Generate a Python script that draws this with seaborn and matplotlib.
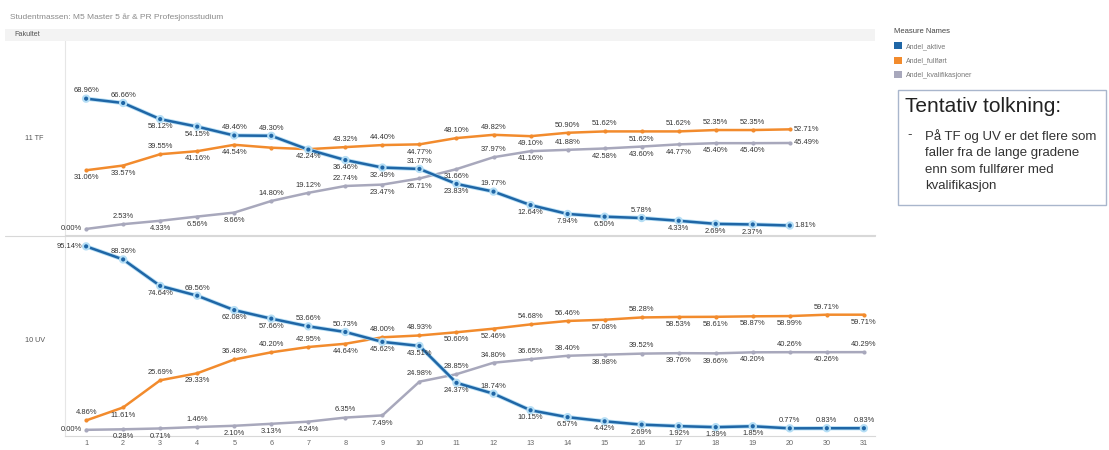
import pandas as pd
import matplotlib
matplotlib.use("Agg")
import matplotlib.pyplot as plt
import matplotlib.patheffects as pe
from matplotlib.patches import Patch, Rectangle
from matplotlib.lines import Line2D
import seaborn as sns

semesters = [str(i) for i in range(1, 21)] + ["30", "31"]
measures = ["Andel_aktive", "Andel_fullført", "Andel_kvalifikasjoner"]

tf_aktive = [68.96, 66.66, 58.12, 54.15, 49.46, 49.30, 42.00, 36.46, 32.49, 31.77,
             23.83, 19.77, 12.64, 7.94, 6.50, 5.78, 4.33, 2.69, 2.37, 1.81]
tf_fullfort = [31.06, 33.57, 39.55, 41.16, 44.54, 43.00, 42.24, 43.32, 44.40, 44.77,
               48.10, 49.82, 49.10, 50.90, 51.62, 51.62, 51.62, 52.35, 52.35, 52.71]
tf_kval = [0.00, 2.53, 4.33, 6.56, 8.66, 14.80, 19.12, 22.74, 23.47, 26.71,
           31.66, 37.97, 41.16, 41.88, 42.58, 43.60, 44.77, 45.40, 45.40, 45.49]

uv_aktive = [95.14, 88.36, 74.64, 69.56, 62.08, 57.66, 53.66, 50.73, 45.62, 43.51, 24.37,
             18.74, 10.15, 6.57, 4.42, 2.69, 1.92, 1.39, 1.85, 0.77, 0.83, 0.83]
uv_fullfort = [4.86, 11.61, 25.69, 29.33, 36.48, 40.20, 42.95, 44.64, 48.00, 48.93, 50.60,
               52.46, 54.68, 56.46, 57.08, 58.28, 58.53, 58.61, 58.87, 58.99, 59.71, 59.71]
uv_kval = [0.00, 0.28, 0.71, 1.46, 2.10, 3.13, 4.24, 6.35, 7.49, 24.98, 28.85,
           34.80, 36.65, 38.40, 38.98, 39.52, 39.76, 39.66, 40.20, 40.26, 40.26, 40.29]

# label placement per point: u=above, d=below, l=left, r=right, n=hidden
tf_sides = ["uudduunddududdduddd" + "r",
            "ddudd" + "nd" + "uud" + "uud" + "uud" + "uuu" + "r",
            "luddd" + "uuu" + "ddd" + "udu" + "ddddd" + "r"]
uv_sides = ["ludu" + "dduu" + "ddd" + "u" + "ddddddd" + "uuu",
            "udud" + "uuu" + "d" + "uu" + "dd" + "uu" + "d" + "u" + "dddd" + "u" + "d",
            "lddu" + "ddd" + "u" + "d" + "uuuuu" + "d" + "u" + "ddd" + "u" + "d" + "u"]

colors = {"Andel_aktive": "#1f66a6", "Andel_fullført": "#f28b2d",
          "Andel_kvalifikasjoner": "#a8a8bc"}


def long_frame(series):
    rows = []
    for m, vals in zip(measures, series):
        for i, v in enumerate(vals):
            rows.append({"Measure": m, "pos": i, "value": v})
    return pd.DataFrame(rows)


tf = long_frame([tf_aktive, tf_fullfort, tf_kval])
uv = long_frame([uv_aktive, uv_fullfort, uv_kval])

sns.set_theme(style="white")
plt.rcParams["font.family"] = ["Liberation Sans", "DejaVu Sans"]

W, H = 1109, 450
fig = plt.figure(figsize=(W / 100, H / 100), dpi=100)
ax_tf = fig.add_axes([65 / W, 1 - 235 / H, 810 / W, 195 / H])
ax_uv = fig.add_axes([65 / W, 1 - 436 / H, 810 / W, 199 / H])

offsets = {"u": ((0, 3), "center", "bottom"), "d": ((0, -3), "center", "top"),
           "l": ((-3, 0), "right", "center"), "r": ((3, 0), "left", "center")}

for ax, df, sides in [(ax_tf, tf, tf_sides), (ax_uv, uv, uv_sides)]:
    sns.lineplot(data=df, x="pos", y="value", hue="Measure", hue_order=measures,
                 palette=colors, marker="o", markersize=3, markeredgewidth=0,
                 linewidth=1.8, ax=ax, legend=False, zorder=3)
    ax.lines[0].set_path_effects([pe.Stroke(linewidth=3.0, foreground="#b5def5"), pe.Normal()])
    ax.lines[0].set_zorder(4)
    for m, side in zip(measures, sides):
        sub = df[df["Measure"] == m]
        for x, y, s in zip(sub["pos"], sub["value"], side):
            if s == "n":
                continue
            off, ha, va = offsets[s]
            ax.annotate(f"{y:.2f}%", (x, y), xytext=off, textcoords="offset points",
                        ha=ha, va=va, fontsize=5.4, color="#333333", zorder=5)
    ax.set_xlim(-0.57, 21.3)
    ax.set_ylim(-3.2, 100)
    ax.set_yticks([])
    ax.set_xlabel("")
    ax.set_ylabel("")
    for sp in ["top", "right"]:
        ax.spines[sp].set_visible(False)
    ax.spines["left"].set_color("#e6e6e6")
    ax.spines["bottom"].set_color("#d8d8d8")
    ax.spines["left"].set_linewidth(0.8)
    ax.spines["bottom"].set_linewidth(0.8)

ax_tf.set_xticks([])
ax_uv.set_xticks(range(len(semesters)))
ax_uv.set_xticklabels(semesters, fontsize=5.2, color="#666666")
ax_uv.tick_params(axis="x", length=0, pad=3)

# header and row labels
fig.text(10 / W, 1 - 17 / H, "Studentmassen: M5 Master 5 år & PR Profesjonsstudium",
         fontsize=6, color="#8a8a8a", va="center")
hdr = fig.add_axes([5 / W, 1 - 41 / H, 870 / W, 12 / H], facecolor="#f3f3f3")
hdr.set_xticks([])
hdr.set_yticks([])
for sp in hdr.spines.values():
    sp.set_visible(False)
fig.text(14 / W, 1 - 35 / H, "Fakultet", fontsize=5.2, color="#555555", va="center")
fig.text(25 / W, 1 - 138 / H, "11 TF", fontsize=5.2, color="#555555", va="center")
fig.text(25 / W, 1 - 340 / H, "10 UV", fontsize=5.2, color="#555555", va="center")
fig.add_artist(Line2D([5 / W, 875 / W], [1 - 236 / H, 1 - 236 / H], color="#d8d8d8", lw=0.8))

# legend
handles = [Patch(facecolor=colors[m], edgecolor="none") for m in measures]
leg = fig.legend(handles, measures, title="Measure Names", loc="upper left",
                 bbox_to_anchor=(888 / W, 1 - 22 / H), frameon=False, fontsize=5,
                 title_fontsize=5.5, handlelength=1.1, handleheight=1.1,
                 labelspacing=1.0, handletextpad=0.6, alignment="left")
for t in leg.get_texts():
    t.set_color("#777777")
leg.get_title().set_color("#444444")

# annotation box
fig.add_artist(Rectangle((898 / W, 1 - 205 / H), 208 / W, 115 / H, transform=fig.transFigure,
                         facecolor="white", edgecolor="#a9b6cc", lw=1))
fig.text(905 / W, 1 - 106 / H, "Tentativ tolkning:", fontsize=15, color="#222222", va="center")
fig.text(907 / W, 1 - 129 / H, "-", fontsize=9.5, color="#333333", va="top")
fig.text(925 / W, 1 - 129 / H,
         "På TF og UV er det flere som\nfaller fra de lange gradene\nenn som fullfører med\nkvalifikasjon",
         fontsize=9.5, color="#333333", va="top", linespacing=1.5)

fig.savefig("out.png", dpi=100)
